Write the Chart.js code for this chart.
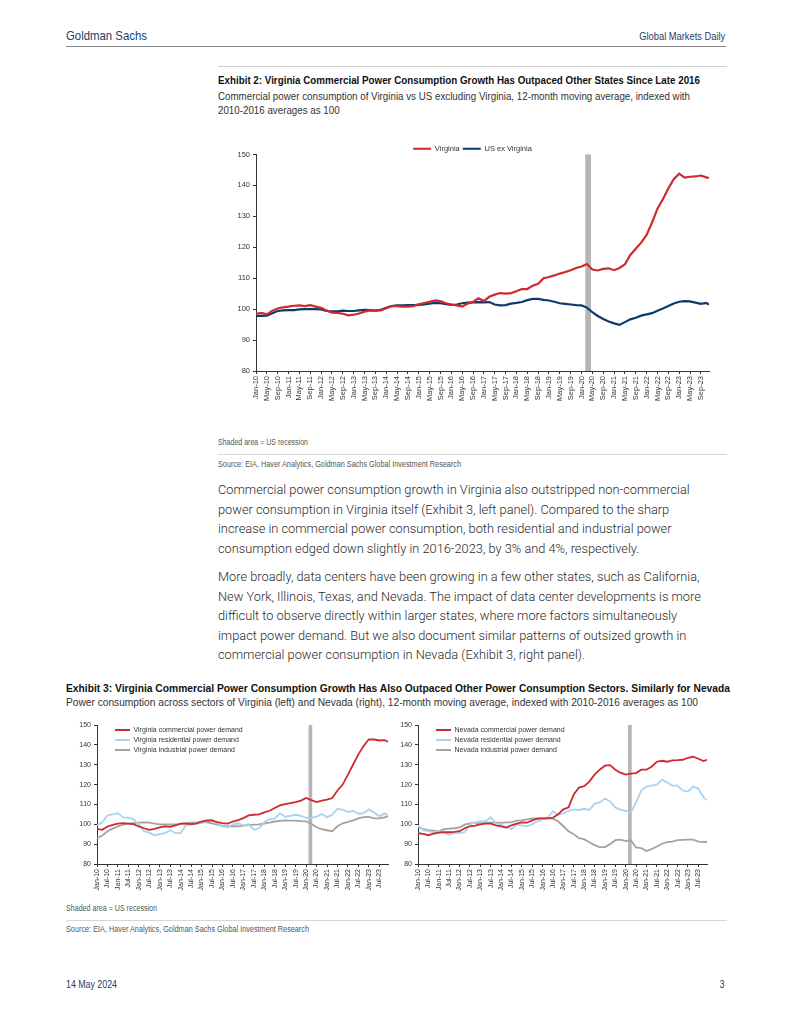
<!DOCTYPE html>
<html>
<head>
<meta charset="utf-8">
<script src="https://cdn.jsdelivr.net/npm/chart.js@4.4.1/dist/chart.umd.min.js"></script>
<style>
html, body { margin: 0; padding: 0; background: #fff; }
body { width: 791px; height: 1024px; position: relative; overflow: hidden; }
.t { position: absolute; white-space: nowrap; font-family: "Liberation Sans", Arial, sans-serif; transform-origin: 0 0; }
.t.r { transform-origin: 100% 0; }
.navy { color: #1d3c69; }
.rule { position: absolute; height: 1px; }
canvas { position: absolute; }
.para { position: absolute; left: 218px; font-family: Roboto, "Liberation Sans", sans-serif; font-weight: 300; font-size: 12.8px; color: #2a2a2a; line-height: 19.5px; }
</style>
</head>
<body>

<div class="t navy" data-w="81" style="left:66px; top:28px; font-size:13.5px; line-height:16px;">Goldman Sachs</div>
<div class="t r navy" data-w="86" style="right:66px; top:30px; font-size:10px; line-height:14px;">Global Markets Daily</div>
<div class="rule" style="left:66px; width:660px; top:46px; background:#8a8a8a;"></div>

<div class="rule" style="left:218px; width:509px; top:66px; background:#cfcfcf;"></div>
<div class="t" data-w="482" style="left:218px; top:73px; font-size:11px; line-height:14px; font-weight:bold; color:#111;">Exhibit 2: Virginia Commercial Power Consumption Growth Has Outpaced Other States Since Late 2016</div>
<div class="t" data-w="472" style="left:218px; top:89px; font-size:10.5px; line-height:14px; color:#333;">Commercial power consumption of Virginia vs US excluding Virginia, 12-month moving average, indexed with<br>2010-2016 averages as 100</div>

<canvas id="chart1" width="509" height="277" style="left:218px; top:134px;"></canvas>

<div class="t" data-w="90" style="left:218px; top:436px; font-size:8.5px; line-height:12px; color:#555;">Shaded area = US recession</div>
<div class="rule" style="left:218px; width:509px; top:454px; background:#d6d6d6;"></div>
<div class="t" data-w="243" style="left:218px; top:458px; font-size:8.5px; line-height:12px; color:#555;">Source: EIA, Haver Analytics, Goldman Sachs Global Investment Research</div>

<div class="para" style="top:480px;">Commercial power consumption growth in Virginia also outstripped non-commercial<br>power consumption in Virginia itself (Exhibit 3, left panel). Compared to the sharp<br>increase in commercial power consumption, both residential and industrial power<br>consumption edged down slightly in 2016-2023, by 3% and 4%, respectively.</div>
<div class="para" style="top:567px;">More broadly, data centers have been growing in a few other states, such as California,<br>New York, Illinois, Texas, and Nevada. The impact of data center developments is more<br>difficult to observe directly within larger states, where more factors simultaneously<br>impact power demand. But we also document similar patterns of outsized growth in<br>commercial power consumption in Nevada (Exhibit 3, right panel).</div>

<div class="t" data-w="664" style="left:66px; top:681px; font-size:11px; line-height:14px; font-weight:bold; color:#111;">Exhibit 3: Virginia Commercial Power Consumption Growth Has Also Outpaced Other Power Consumption Sectors. Similarly for Nevada</div>
<div class="t" data-w="632" style="left:66px; top:695px; font-size:10.5px; line-height:14px; color:#333;">Power consumption across sectors of Virginia (left) and Nevada (right), 12-month moving average, indexed with 2010-2016 averages as 100</div>

<canvas id="chart3a" width="329" height="180" style="left:66px; top:716px;"></canvas>
<canvas id="chart3b" width="316" height="180" style="left:398px; top:716px;"></canvas>

<div class="t" data-w="91" style="left:66px; top:902px; font-size:8.5px; line-height:12px; color:#555;">Shaded area = US recession</div>
<div class="rule" style="left:66px; width:661px; top:920px; background:#d6d6d6;"></div>
<div class="t" data-w="243" style="left:66px; top:923px; font-size:8.5px; line-height:12px; color:#555;">Source: EIA, Haver Analytics, Goldman Sachs Global Investment Research</div>

<div class="t navy" data-w="51" style="left:66px; top:978px; font-size:10px; line-height:14px;">14 May 2024</div>
<div class="t r navy" style="right:66px; top:978px; font-size:10px; line-height:14px; transform:scaleX(0.85);">3</div>

<script>
'use strict';

// ---- Exhibit 2 : sampled every 2 months, Jan-10 .. Dec-23
var dates1 = [
    'Jan-10','Mar-10','May-10','Jul-10','Sep-10','Nov-10',
    'Jan-11','Mar-11','May-11','Jul-11','Sep-11','Nov-11',
    'Jan-12','Mar-12','May-12','Jul-12','Sep-12','Nov-12',
    'Jan-13','Mar-13','May-13','Jul-13','Sep-13','Nov-13',
    'Jan-14','Mar-14','May-14','Jul-14','Sep-14','Nov-14',
    'Jan-15','Mar-15','May-15','Jul-15','Sep-15','Nov-15',
    'Jan-16','Mar-16','May-16','Jul-16','Sep-16','Nov-16',
    'Jan-17','Mar-17','May-17','Jul-17','Sep-17','Nov-17',
    'Jan-18','Mar-18','May-18','Jul-18','Sep-18','Nov-18',
    'Jan-19','Mar-19','May-19','Jul-19','Sep-19','Nov-19',
    'Jan-20','Mar-20','May-20','Jul-20','Sep-20','Nov-20',
    'Jan-21','Mar-21','May-21','Jul-21','Sep-21','Nov-21',
    'Jan-22','Mar-22','May-22','Jul-22','Sep-22','Nov-22',
    'Jan-23','Mar-23','May-23','Jul-23','Sep-23','Nov-23','Dec-23'
];
var virginia = [
    98.5, 98.8, 98.3, 99.5, 100.2, 100.6,
    100.8, 101.1, 101.2, 101.0, 101.3, 100.8,
    100.4, 99.6, 98.9, 98.8, 98.5, 98.0,
    98.2, 98.6, 99.2, 99.6, 99.5, 99.6,
    100.3, 101.0, 101.0, 100.8, 100.8, 101.0,
    101.6, 102.0, 102.4, 102.8, 102.6, 101.9,
    101.5, 101.2, 100.8, 101.8, 102.3, 103.5,
    102.6, 104.0, 104.7, 105.2, 105.0, 105.2,
    105.8, 106.5, 106.5, 107.6, 108.2, 110.0,
    110.4, 110.9, 111.5, 112.0, 112.6, 113.3,
    113.8, 114.6, 112.8, 112.5, 113.0, 113.2,
    112.6, 113.3, 114.5, 117.5, 119.5, 121.5,
    124.0, 128.0, 132.5, 135.5, 139.0, 142.0,
    143.8, 142.5, 142.8, 142.9, 143.2, 142.6, 142.4
];
var usExVirginia = [
    97.8, 97.8, 97.9, 98.7, 99.4, 99.6,
    99.7, 99.7, 99.9, 100.0, 100.0, 100.0,
    99.9, 99.4, 99.3, 99.3, 99.5, 99.4,
    99.4, 99.6, 99.8, 99.7, 99.5, 99.8,
    100.4, 101.0, 101.2, 101.2, 101.3, 101.3,
    101.4, 101.5, 101.8, 102.0, 101.9, 101.6,
    101.4, 101.5, 101.9, 102.1, 102.2, 102.3,
    102.2, 102.3, 101.5, 101.2, 101.3, 101.8,
    102.0, 102.3, 102.9, 103.3, 103.3, 103.0,
    102.8, 102.4, 101.9, 101.7, 101.5, 101.3,
    101.2, 100.5, 99.0, 97.8, 96.8, 96.0,
    95.4, 94.9, 95.8, 96.7, 97.2, 97.9,
    98.3, 98.7, 99.5, 100.2, 101.0, 101.8,
    102.4, 102.6, 102.5, 102.1, 101.7, 102.0, 101.5
];
var ticks1 = [
    'Jan-10','May-10','Sep-10','Jan-11','May-11','Sep-11','Jan-12','May-12','Sep-12',
    'Jan-13','May-13','Sep-13','Jan-14','May-14','Sep-14','Jan-15','May-15','Sep-15',
    'Jan-16','May-16','Sep-16','Jan-17','May-17','Sep-17','Jan-18','May-18','Sep-18',
    'Jan-19','May-19','Sep-19','Jan-20','May-20','Sep-20','Jan-21','May-21','Sep-21',
    'Jan-22','May-22','Sep-22','Jan-23','May-23','Sep-23'
];

// ---- Exhibit 3 : sampled quarterly, Jan-10 .. Dec-23
var dates3 = [
    'Jan-10','Apr-10','Jul-10','Oct-10','Jan-11','Apr-11','Jul-11','Oct-11',
    'Jan-12','Apr-12','Jul-12','Oct-12','Jan-13','Apr-13','Jul-13','Oct-13',
    'Jan-14','Apr-14','Jul-14','Oct-14','Jan-15','Apr-15','Jul-15','Oct-15',
    'Jan-16','Apr-16','Jul-16','Oct-16','Jan-17','Apr-17','Jul-17','Oct-17',
    'Jan-18','Apr-18','Jul-18','Oct-18','Jan-19','Apr-19','Jul-19','Oct-19',
    'Jan-20','Apr-20','Jul-20','Oct-20','Jan-21','Apr-21','Jul-21','Oct-21',
    'Jan-22','Apr-22','Jul-22','Oct-22','Jan-23','Apr-23','Jul-23','Oct-23','Dec-23'
];
var vaCommercial = [
    97.7, 97.2, 98.9, 99.7, 100.3, 100.6, 100.3, 100.1,
    98.9, 98.0, 97.2, 97.7, 98.4, 98.9, 98.7, 99.4,
    100.3, 100.4, 100.1, 100.3, 101.4, 101.9, 101.8, 101.1,
    100.6, 100.3, 101.4, 102.1, 103.1, 104.5, 104.8, 105.0,
    106.0, 106.8, 108.2, 109.5, 110.2, 110.7, 111.2, 111.9,
    113.3, 112.2, 111.2, 111.9, 112.4, 113.2, 117.0, 120.0,
    125.0, 130.1, 135.2, 139.4, 142.8, 142.7, 142.2, 142.4, 141.6
];
var vaResidential = [
    99.5, 101.0, 104.5, 105.0, 105.6, 103.5, 103.3, 102.5,
    100.0, 96.5, 95.8, 94.5, 95.0, 95.5, 97.0, 95.5,
    95.5, 99.5, 100.0, 100.5, 100.5, 101.5, 102.5, 100.5,
    99.0, 98.5, 100.0, 100.5, 99.5, 100.0, 97.3, 98.0,
    101.0, 102.5, 103.0, 105.5, 103.8, 104.2, 104.8, 104.3,
    103.3, 103.3, 103.8, 105.2, 103.6, 104.8, 107.8, 107.3,
    106.2, 106.7, 105.3, 105.6, 107.5, 106.0, 104.0, 105.5, 104.5
];
var vaIndustrial = [
    93.0, 94.3, 96.5, 97.8, 99.0, 99.8, 100.3, 100.6,
    100.8, 100.9, 100.8, 100.3, 100.0, 99.9, 99.9, 100.0,
    100.2, 100.4, 100.8, 101.0, 101.2, 101.0, 100.4, 99.8,
    99.3, 99.0, 99.0, 99.0, 99.3, 99.6, 99.8, 100.0,
    100.4, 100.8, 101.4, 101.7, 101.9, 101.8, 101.8, 101.6,
    101.5, 100.2, 98.5, 97.5, 97.0, 96.5, 99.0, 100.5,
    101.2, 102.0, 103.0, 103.6, 103.7, 103.0, 103.0, 103.5, 104.0
];
var nvCommercial = [
    95.5, 95.2, 94.5, 95.3, 95.8, 96.0, 96.0, 96.2,
    96.5, 98.0, 99.0, 99.3, 100.0, 100.3, 100.3, 99.5,
    99.0, 98.3, 99.5, 100.3, 101.0, 100.8, 102.0, 102.8,
    103.0, 103.0, 103.3, 105.0, 107.5, 108.5, 115.0, 118.5,
    119.2, 121.5, 125.0, 127.5, 129.5, 129.8, 127.5, 126.0,
    125.0, 125.5, 125.8, 127.5, 127.5, 129.0, 131.5, 132.0,
    131.5, 132.2, 132.3, 132.5, 133.5, 134.0, 133.0, 131.8, 132.5
];
var nvResidential = [
    99.5, 97.0, 96.5, 96.0, 96.5, 95.8, 94.8, 95.5,
    95.5, 96.0, 100.0, 101.0, 101.5, 101.5, 103.5, 100.5,
    99.8, 98.5, 97.5, 99.8, 99.5, 99.0, 100.0, 101.5,
    102.5, 103.5, 106.5, 104.8, 105.5, 106.8, 107.5, 107.2,
    107.8, 107.2, 110.3, 111.0, 113.0, 111.5, 108.5, 107.3,
    106.8, 106.0, 111.0, 117.0, 119.0, 119.5, 120.0, 122.5,
    121.0, 119.5, 119.5, 117.0, 116.5, 119.0, 118.0, 113.5, 112.2
];
var nvIndustrial = [
    98.8, 97.5, 97.0, 96.8, 96.5, 97.5, 97.8, 98.0,
    98.5, 99.8, 100.5, 100.8, 100.5, 100.8, 100.8, 100.8,
    100.7, 101.0, 101.0, 101.8, 102.0, 102.5, 103.0, 103.0,
    103.0, 103.0, 102.8, 101.5, 99.0, 96.5, 95.0, 93.0,
    92.5, 91.0, 89.5, 88.5, 88.5, 90.0, 92.0, 92.3,
    91.5, 92.0, 88.3, 88.0, 86.5, 87.5, 88.8, 90.2,
    91.0, 91.3, 92.0, 92.2, 92.3, 92.3, 91.3, 91.0, 91.2
];
var ticks3 = [
    'Jan-10','Jul-10','Jan-11','Jul-11','Jan-12','Jul-12','Jan-13','Jul-13',
    'Jan-14','Jul-14','Jan-15','Jul-15','Jan-16','Jul-16','Jan-17','Jul-17',
    'Jan-18','Jul-18','Jan-19','Jul-19','Jan-20','Jul-20','Jan-21','Jul-21',
    'Jan-22','Jul-22','Jan-23','Jul-23'
];
var yTicks = [80, 90, 100, 110, 120, 130, 140, 150];
var recession = ['Feb-20', 'Apr-20'];

var RED = '#cc2a2f', NAVY = '#0b3a6b', LIGHTBLUE = '#a9d3f2', GREY = '#a3a3a3';
var MON = ['Jan','Feb','Mar','Apr','May','Jun','Jul','Aug','Sep','Oct','Nov','Dec'];

// squeeze the page text into the condensed widths of the original
document.querySelectorAll('[data-w]').forEach(function (el) {
    var w = el.getBoundingClientRect().width;
    el.style.transform = 'scaleX(' + (Number(el.dataset.w) / w) + ')';
});

function monthIndex(label) {
    var p = label.split('-');
    return (Number(p[1]) - 10) * 12 + MON.indexOf(p[0]);
}
function points(dates, values) {
    return dates.map(function (d, i) { return { x: monthIndex(d), y: values[i] }; });
}

// grey bar for the recession months, placed with the x scale
var recessionBar = {
    id: 'recessionBar',
    beforeDatasetsDraw: function (chart) {
        var ctx = chart.ctx, area = chart.chartArea, x = chart.scales.x;
        var x0 = x.getPixelForValue(monthIndex(recession[0]) + 0.4);
        var x1 = x.getPixelForValue(monthIndex(recession[1]) + 0.5);
        ctx.save();
        ctx.fillStyle = '#b5b5b5';
        ctx.fillRect(x0, area.top, Math.max(x1 - x0, 3), area.bottom - area.top);
        ctx.restore();
    }
};
// moves the legend box relative to the plot area
var legendNudge = {
    id: 'legendNudge',
    beforeDraw: function (chart, args, opts) {
        if (!chart.legend) return;
        if (opts.dx != null) chart.legend.left = chart.chartArea.left + opts.dx;
        if (opts.dy != null) chart.legend.top = chart.chartArea.top + opts.dy;
    }
};

Chart.defaults.font.family = '"Liberation Sans", Arial, sans-serif';
Chart.defaults.color = '#333';

function line(label, dates, values, color, width) {
    return {
        label: label, data: points(dates, values), borderColor: color, backgroundColor: color,
        borderWidth: width, pointRadius: 0, tension: 0, fill: false
    };
}

function makeOptions(tickList, fontSize, yWidth, xHeight, pad, legendOpts, nudge) {
    return {
        responsive: false,
        animation: false,
        layout: { padding: pad },
        plugins: {
            legend: legendOpts,
            tooltip: { enabled: false },
            legendNudge: nudge
        },
        scales: {
            x: {
                type: 'linear', min: 0, max: 167,
                afterBuildTicks: function (axis) {
                    axis.ticks = tickList.map(function (l) { return { value: monthIndex(l) }; });
                },
                afterFit: function (scale) { scale.height = xHeight; },
                ticks: {
                    autoSkip: false, minRotation: 90, maxRotation: 90, padding: 2,
                    font: { size: fontSize },
                    callback: function (v) {
                        var l = tickList.find(function (t) { return monthIndex(t) === v; });
                        return l || '';
                    }
                },
                grid: { drawOnChartArea: false, tickLength: 3, color: '#333' },
                border: { color: '#333', width: 1 }
            },
            y: {
                min: yTicks[0], max: yTicks[yTicks.length - 1],
                afterBuildTicks: function (axis) {
                    axis.ticks = yTicks.map(function (v) { return { value: v }; });
                },
                afterFit: function (scale) { scale.width = yWidth; },
                ticks: { padding: 3, font: { size: fontSize } },
                grid: { drawOnChartArea: false, tickLength: 3, color: '#333' },
                border: { color: '#333', width: 1 }
            }
        }
    };
}

var legendTop = {
    position: 'top', align: 'center',
    labels: { usePointStyle: true, pointStyle: 'line', pointStyleWidth: 18, padding: 3, color: '#333', font: { size: 7.5 } }
};
var legendInside = {
    position: 'chartArea', align: 'start',
    labels: { usePointStyle: true, pointStyle: 'line', pointStyleWidth: 15, padding: 3, color: '#333', font: { size: 7 } }
};

new Chart(document.getElementById('chart1').getContext('2d'), {
    type: 'line',
    data: {
        datasets: [
            line('Virginia', dates1, virginia, RED, 2.2),
            line('US ex Virginia', dates1, usExVirginia, NAVY, 2.2)
        ]
    },
    options: makeOptions(ticks1, 7.5, 38, 40, { top: 0, right: 18, left: 0, bottom: 0 }, legendTop, { dx: -20, dy: -12.5 }),
    plugins: [recessionBar, legendNudge]
});

new Chart(document.getElementById('chart3a').getContext('2d'), {
    type: 'line',
    data: {
        datasets: [
            line('Virginia commercial power demand', dates3, vaCommercial, RED, 1.8),
            line('Virginia residential power demand', dates3, vaResidential, LIGHTBLUE, 1.8),
            line('Virginia industrial power demand', dates3, vaIndustrial, GREY, 1.8)
        ]
    },
    options: makeOptions(ticks3, 7, 31, 32, { top: 9, right: 7, left: 0, bottom: 0 }, legendInside, { dx: 15, dy: -1.5 }),
    plugins: [recessionBar, legendNudge]
});

new Chart(document.getElementById('chart3b').getContext('2d'), {
    type: 'line',
    data: {
        datasets: [
            line('Nevada commercial power demand', dates3, nvCommercial, RED, 1.8),
            line('Nevada residential power demand', dates3, nvResidential, LIGHTBLUE, 1.8),
            line('Nevada industrial power demand', dates3, nvIndustrial, GREY, 1.8)
        ]
    },
    options: makeOptions(ticks3, 7, 20, 32, { top: 9, right: 7, left: 0, bottom: 0 }, legendInside, { dx: 15, dy: -1.5 }),
    plugins: [recessionBar, legendNudge]
});
</script>
</body>
</html>
